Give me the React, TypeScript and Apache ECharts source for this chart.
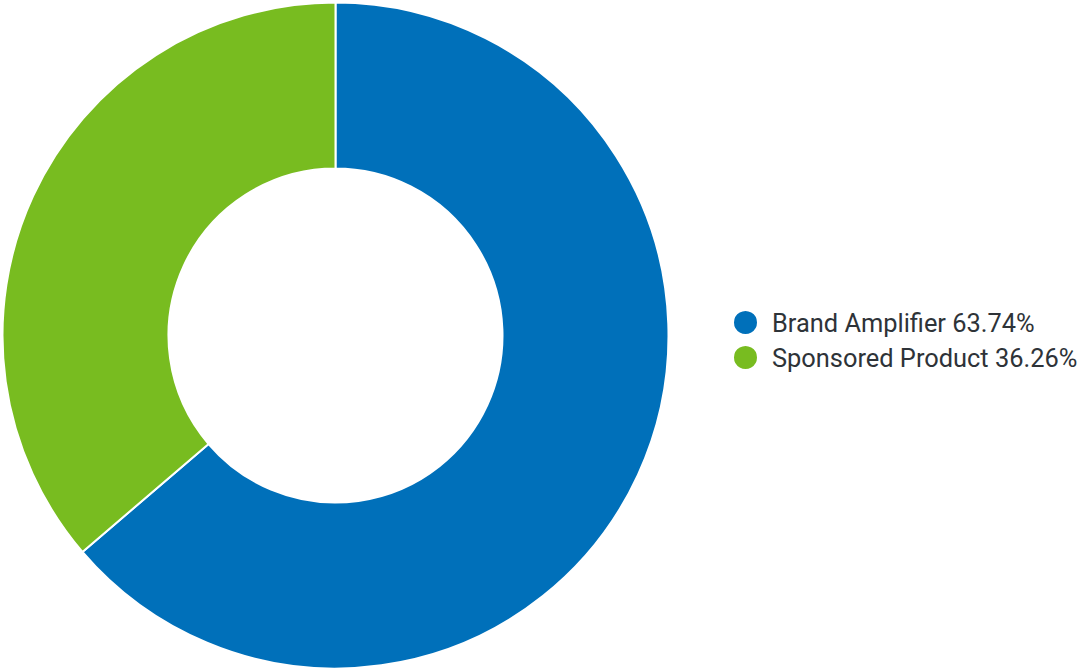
import React, { useEffect, useRef } from "react";
import * as echarts from "echarts";

const categories = ["Brand Amplifier", "Sponsored Product"];
const values = [63.74, 36.26];
const colors = ["#0070BA", "#78BC20"];

export default function App() {
  const ref = useRef<HTMLDivElement>(null);
  useEffect(() => {
    const chart = echarts.init(ref.current!, undefined, { renderer: "svg" });
    const total = values.reduce((a, b) => a + b, 0);
    chart.setOption({
      animation: false,
      color: colors,
      legend: {
        orient: "vertical",
        left: 732,
        top: 309,
        padding: 0,
        icon: "circle",
        itemWidth: 25,
        itemHeight: 25,
        itemGap: 8,
        data: categories,
        formatter: (name: string) => {
          const i = categories.indexOf(name);
          return `${name} ${((values[i] / total) * 100).toFixed(2)}%`;
        },
        textStyle: {
          fontFamily: "Roboto",
          fontSize: 25.4,
          color: "#2e3338",
          padding: [0, 0, 0, 9],
        },
      },
      series: [
        {
          type: "pie",
          center: [335.5, 335.5],
          radius: [167, 333],
          startAngle: 90,
          clockwise: true,
          label: { show: false },
          labelLine: { show: false },
          itemStyle: { borderColor: "#ffffff", borderWidth: 2 },
          emphasis: { disabled: true },
          data: categories.map((c, i) => ({ name: c, value: values[i] })),
        },
      ],
    });
    return () => chart.dispose();
  }, []);
  return (
    <div
      ref={ref}
      style={{ width: 1079, height: 669, position: "absolute", left: 0, top: 0 }}
    />
  );
}
